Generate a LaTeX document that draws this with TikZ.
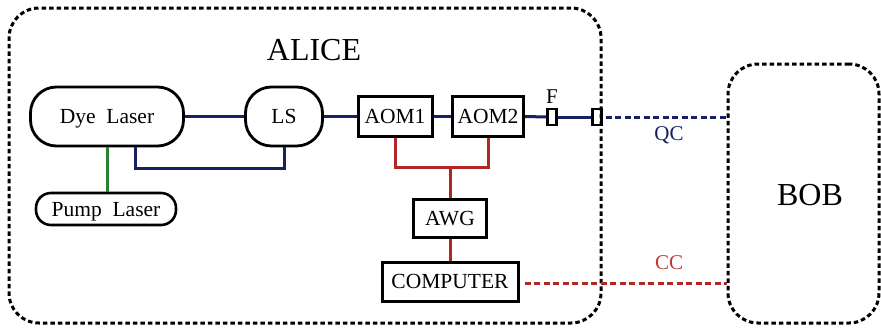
\documentclass[tikz,border=0pt]{standalone}
\usepackage{fontspec}
\setmainfont{Liberation Serif}
\usetikzlibrary{calc}
\definecolor{fibre}{RGB}{22,32,98}
\definecolor{rf}{RGB}{178,38,38}
\definecolor{pump}{RGB}{40,128,48}
\definecolor{cclabel}{RGB}{185,60,60}
\begin{document}
\begin{tikzpicture}[x=1pt,y=-1pt,
  party/.style={draw, line width=3pt, dash pattern=on 4.5pt off 3pt, rounded corners=30pt},
  optic/.style={draw, line width=2.8pt, rounded corners=26pt, inner sep=0pt, text depth=0pt, font=\fontsize{21.5}{25}\selectfont},
  unit/.style={draw, line width=3pt, inner sep=0pt, text depth=0pt, font=\fontsize{21.5}{25}\selectfont},
  port/.style={draw, line width=2.2pt, inner sep=0pt, minimum width=9pt, minimum height=16pt},
  beam/.style={fibre, line width=3pt},
  rfline/.style={rf, line width=3pt},
  link/.style={line width=3pt, dash pattern=on 6pt off 3.5pt},
  big/.style={font=\fontsize{32}{38}\selectfont},
  chan/.style={font=\fontsize{21}{25}\selectfont}]
\useasboundingbox (0,0) rectangle (881,327);

% the two parties
\node[party, minimum width=592pt, minimum height=315pt] (alice) at (305,165.5) {};
\node[party, minimum width=151pt, minimum height=259pt] (bob) at (803.5,193.5) {};
\node[big] (alicelabel) at (314,50) {ALICE};
\node[big] (boblabel) at (810,195) {BOB};

% optical components
\node[optic, minimum width=153pt, minimum height=59pt] (dye) at (107,116.5) {Dye\ \ Laser};
\node[optic, minimum width=77pt, minimum height=59pt] (ls) at (284,116.5) {LS};
\node[optic, rounded corners=15pt, line width=2.6pt, minimum width=140pt, minimum height=32pt] (pumpl) at (106,209) {Pump\ \ Laser};
\node[unit, minimum width=74pt, minimum height=40pt] (aom1) at (395,116.5) {AOM1};
\node[unit, minimum width=71pt, minimum height=40pt] (aom2) at (488,116.5) {AOM2};
\node[port] (filter) at (552,117) {};
\node[chan] (flabel) at (552,97) {F};
\node[port] (exit) at (597,117) {};

% electronics
\node[unit, minimum width=73pt, minimum height=38pt] (awg) at (450,218) {AWG};
\node[unit, minimum width=136pt, minimum height=39pt] (computer) at (450,281.5) {COMPUTER};

% pump beam
\draw[pump, line width=3pt] (dye.south) -- (dye.south |- pumpl.north);

% optical path
\draw[beam] (dye.east) -- (ls.west);
\draw[beam] ([xshift=28pt]dye.south) -- ++(0,21) -| (ls.south);
\draw[beam] (ls.east) -- (aom1.west);
\draw[beam] (aom1.east) -- (aom2.west);
\draw[beam] (aom2.east) -- (filter.west);
\draw[beam] (filter.east) -- (exit.west);

% rf drive
\coordinate (split) at (450,167);
\draw[rfline] (aom1.south) |- (split) -| (aom2.south);
\draw[rfline] (split) -- (awg.north);
\draw[rfline] (awg.south) -- (computer.north);

% channels to Bob
\draw[link, fibre] ([xshift=3pt]exit.east) -- (exit.east -| bob.west);
\node[chan, text=fibre] (qc) at (669,135) {QC};
\draw[link, rf] ([xshift=5pt]computer.east) ++(0,1.5) -- ($(computer.east -| bob.west)+(0,1.5)$);
\node[chan, text=cclabel] (cc) at (669,263) {CC};
\end{tikzpicture}
\end{document}
